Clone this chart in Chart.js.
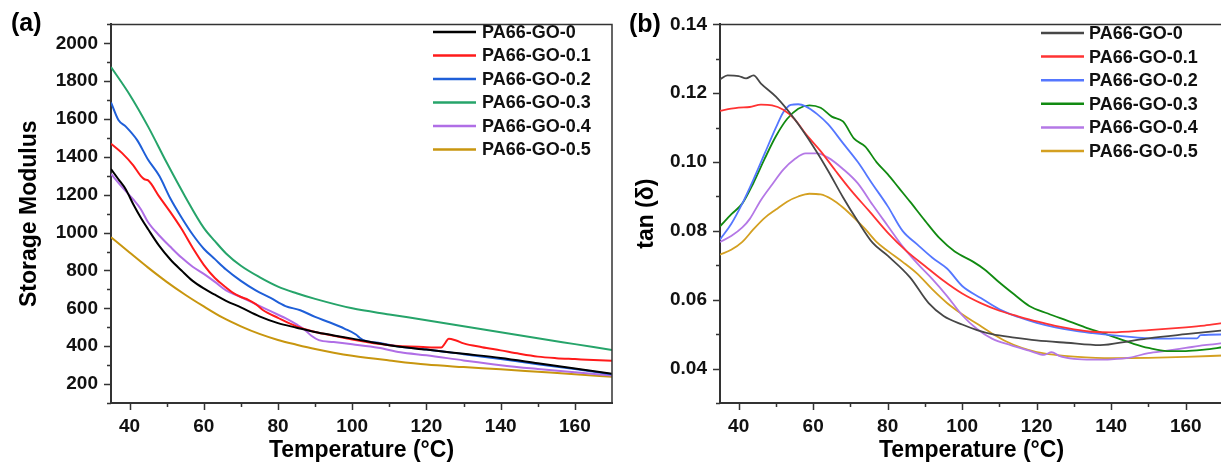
<!DOCTYPE html>
<html>
<head>
<meta charset="utf-8">
<script src="https://cdn.jsdelivr.net/npm/chart.js@4.4.1/dist/chart.umd.min.js"></script>
<style>
html,body{margin:0;padding:0;background:#fff;overflow:hidden;width:1221px;height:465px;position:relative;}
#wrapA{position:absolute;left:0;top:0;width:616px;height:465px;}
#wrapB{position:absolute;left:610px;top:0;width:616px;height:465px;}
canvas{display:block;}
</style>
</head>
<body>
<div id="wrapA"><canvas id="cA" width="616" height="465"></canvas></div>
<div id="wrapB"><canvas id="cB" width="616" height="465"></canvas></div>
<script>
// ---------- DATA ----------
const seriesNames = ['PA66-GO-0','PA66-GO-0.1','PA66-GO-0.2','PA66-GO-0.3','PA66-GO-0.4','PA66-GO-0.5'];

// (a) Storage modulus vs temperature
const aT0 = [35,37,39,41,43,45,48,51,54,57,60,63,66,70,75,80,85,90,95,100,110,120,130,140,150,160,170];
const aE0 = [1336,1282,1228,1150,1080,1018,930,858,800,745,705,672,640,605,558,522,498,475,457,440,405,382,360,338,310,282,255];
const aT1 = [35,38,41,43,44,45,48,51,54,57,60,63,66,68,70,72,74,76,80,85,90,95,100,110,120,124,125,126,128,130,135,140,145,150,155,160,165,170];
const aE1 = [1470,1420,1355,1300,1282,1276,1190,1108,1020,920,830,760,710,680,660,645,622,590,550,505,475,455,435,405,395,393,415,440,430,415,395,378,360,345,337,332,327,323];
const aT2 = [35,37,39,42,45,48,51,54,57,60,63,66,70,74,78,82,86,90,94,98,101,102,103,107,112,120,130,140,150,160,170];
const aE2 = [1688,1595,1560,1490,1385,1300,1180,1080,990,915,860,805,745,695,655,612,590,555,525,492,462,445,432,418,400,383,358,332,305,280,252];
const aT3 = [35,40,45,50,55,60,63,66,70,75,80,85,90,100,110,120,130,140,150,160,170];
const aE3 = [1875,1730,1560,1370,1190,1025,955,890,825,765,715,680,650,600,568,537,505,474,442,411,380];
const aT4 = [35,38,41,43,45,48,51,54,57,60,63,66,70,74,78,82,85,87,89,91,95,100,107,113,120,130,140,150,160,170];
const aE4 = [1310,1240,1175,1125,1055,985,925,868,820,782,740,695,660,622,585,548,515,490,455,432,422,410,392,368,352,325,300,280,262,245];
const aT5 = [35,40,45,50,55,60,65,70,75,80,85,90,95,100,110,120,130,140,150,160,170];
const aE5 = [976,895,815,740,672,610,552,505,465,433,408,385,366,350,325,303,290,278,265,252,238];

// (b) tan(delta) vs temperature
const bT0 = [35,37,40,42,44,46,50,55,60,64,68,72,76,80,86,91,95,100,104,108,114,120,128,137,145,150,160,170];
const bD0 = [0.1240,0.1252,0.1250,0.1243,0.1252,0.1228,0.1190,0.1125,0.1046,0.0975,0.0898,0.0828,0.0765,0.0728,0.0665,0.0590,0.0553,0.0528,0.0512,0.0500,0.0490,0.0482,0.0475,0.0468,0.0480,0.0488,0.0500,0.0511];
const bT1 = [35,38,40,43,46,49,52,55,58,62,66,70,75,80,85,90,95,100,105,110,115,120,125,130,135,140,150,160,165,170];
const bD1 = [0.1149,0.1155,0.1158,0.1160,0.1167,0.1165,0.1152,0.1125,0.1082,0.1032,0.0975,0.0920,0.0858,0.0795,0.0742,0.0698,0.0655,0.0618,0.0590,0.0568,0.0552,0.0537,0.0524,0.0514,0.0507,0.0505,0.0512,0.0520,0.0525,0.0532];
const bT2 = [35,38,41,44,47,50,52,54,56,58,61,64,68,72,76,80,84,88,92,96,100,105,110,115,120,125,130,135,140,145,150,155,160,163,164,170];
const bD2 = [0.0775,0.0820,0.0880,0.0950,0.1025,0.1100,0.1145,0.1166,0.1168,0.1162,0.1140,0.1110,0.1055,0.1000,0.0935,0.0872,0.0800,0.0760,0.0722,0.0690,0.0640,0.0605,0.0572,0.0550,0.0533,0.0520,0.0510,0.0503,0.0497,0.0492,0.0488,0.0487,0.0488,0.0488,0.0497,0.0499];
const bT3 = [35,38,41,44,47,50,53,56,59,62,65,68,71,74,77,80,83,86,90,94,98,103,106,110,114,118,123,128,133,138,142,146,150,155,160,165,170];
const bD3 = [0.0813,0.0848,0.0880,0.0940,0.1010,0.1075,0.1125,0.1155,0.1165,0.1158,0.1132,0.1118,0.1068,0.1045,0.1000,0.0965,0.0925,0.0885,0.0830,0.0778,0.0740,0.0710,0.0688,0.0650,0.0615,0.0582,0.0560,0.0540,0.0520,0.0502,0.0487,0.0472,0.0460,0.0451,0.0451,0.0455,0.0462];
const bT4 = [35,38,41,43,46,49,52,55,58,61,64,68,72,76,80,84,88,92,96,100,104,108,113,118,122,124,126,130,135,140,145,150,155,160,165,170];
const bD4 = [0.0768,0.0785,0.0810,0.0835,0.0890,0.0935,0.0978,0.1008,0.1025,0.1025,0.1013,0.0980,0.0938,0.0875,0.0815,0.0755,0.0705,0.0660,0.0610,0.0555,0.0515,0.0487,0.0468,0.0452,0.0440,0.0448,0.0437,0.0428,0.0426,0.0427,0.0432,0.0445,0.0452,0.0460,0.0468,0.0474];
const bT5 = [35,38,41,44,47,50,53,56,59,62,65,68,71,74,77,80,84,88,92,96,100,104,108,112,116,120,125,130,140,150,160,170];
const bD5 = [0.0731,0.0745,0.0768,0.0805,0.0838,0.0862,0.0885,0.0900,0.0908,0.0906,0.0892,0.0868,0.0838,0.0805,0.0768,0.0742,0.0710,0.0675,0.0630,0.0590,0.0558,0.0530,0.0502,0.0478,0.0460,0.0448,0.0440,0.0435,0.0430,0.0431,0.0434,0.0438];

// tick values
const xTickVals = [40,50,60,70,80,90,100,110,120,130,140,150,160];
const aYTickVals = [100,200,300,400,500,600,700,800,900,1000,1100,1200,1300,1400,1500,1600,1700,1800,1900,2000,2100];
const bYTickVals = [0.03,0.04,0.05,0.06,0.07,0.08,0.09,0.10,0.11,0.12,0.13,0.14];

const colorsA = ['#000000','#ff1a1a','#1f5fd8','#26a46a','#b06ee6','#c8960f'];
const colorsB = ['#474747','#ff3333','#5577ff','#118a11','#b478e6','#d4a021'];

// ---------- HELPERS ----------
const FONT = "'Liberation Sans', Arial, Helvetica, sans-serif";
Chart.defaults.font.family = FONT;
Chart.defaults.font.weight = 'bold';
Chart.defaults.color = '#111';

function pts(T, V){ return T.map((t,i)=>({x:t, y:V[i]})); }

function makeDatasets(Ts, Vs, colors, width){
  return Ts.map((T,i)=>({
    label: seriesNames[i],
    data: pts(T, Vs[i]),
    borderColor: colors[i],
    backgroundColor: colors[i],
    borderWidth: width,
    pointRadius: 0,
    fill: false,
    cubicInterpolationMode: 'monotone'
  }));
}

const deco = {
  id: 'deco',
  afterDraw(chart, args, o){
    const {ctx, chartArea:a, scales:{x, y}} = chart;
    ctx.save();
    // frame top & right
    ctx.strokeStyle = '#333';
    ctx.lineWidth = 1.5;
    ctx.beginPath();
    ctx.moveTo(a.left, a.top); ctx.lineTo(a.right, a.top); ctx.lineTo(a.right, a.bottom);
    ctx.stroke();
    // tick marks (major / minor), outward
    ctx.lineWidth = 1.5;
    ctx.beginPath();
    x.ticks.forEach(t=>{
      const p = Math.round(x.getPixelForValue(t.value)) + 0.5;
      const len = t.label !== '' ? 7 : 4;
      ctx.moveTo(p, a.bottom); ctx.lineTo(p, a.bottom + len);
    });
    y.ticks.forEach(t=>{
      const p = Math.round(y.getPixelForValue(t.value)) + 0.5;
      const len = t.label !== '' ? 7 : 4;
      ctx.moveTo(a.left, p); ctx.lineTo(a.left - len, p);
    });
    ctx.stroke();
    // legend
    ctx.font = "bold 18px " + FONT;
    ctx.textBaseline = 'middle';
    ctx.textAlign = 'left';
    chart.data.datasets.forEach((ds, i)=>{
      const yy = o.legY + i * o.legDy;
      ctx.strokeStyle = ds.borderColor;
      ctx.lineWidth = 2.5;
      ctx.beginPath();
      ctx.moveTo(o.legX0, yy); ctx.lineTo(o.legX1, yy);
      ctx.stroke();
      ctx.fillStyle = '#111';
      ctx.fillText(ds.label, o.legTx, yy + 1);
    });
    // panel label
    ctx.font = "bold 25px " + FONT;
    ctx.fillStyle = '#000';
    ctx.fillText(o.panel, o.panelX, o.panelY);
    ctx.restore();
  }
};

function makeChart(id, datasets, yMin, yMax, yVals, yCb, yTitle, yTitlePad, yWidth, padTop, padRight, deco_opts){
  return new Chart(document.getElementById(id), {
    type: 'line',
    data: { datasets },
    plugins: [deco],
    options: {
      responsive: false,
      animation: false,
      events: [],
      layout: { padding: { left: 0, top: padTop, right: padRight, bottom: 0 } },
      plugins: { legend: { display: false }, tooltip: { enabled: false }, deco: deco_opts },
      scales: {
        x: {
          type: 'linear', min: 35, max: 170,
          afterBuildTicks: s => { s.ticks = xTickVals.map(v => ({ value: v })); },
          afterFit: s => { s.height = 62; },
          ticks: { callback: v => (v % 20 === 0 ? String(v) : ''), autoSkip: false, maxRotation: 0,
                   padding: 12, color: '#111', font: { size: 19, weight: 'bold' } },
          grid: { display: false, drawTicks: false },
          border: { display: true, color: '#333', width: 2 },
          title: { display: true, text: 'Temperature (°C)', color: '#000',
                   font: { size: 23, weight: 'bold' }, padding: { top: 0, bottom: 1 } }
        },
        y: {
          type: 'linear', min: yMin, max: yMax,
          afterBuildTicks: s => { s.ticks = yVals.map(v => ({ value: v })); },
          afterFit: s => { s.width = yWidth; },
          ticks: { callback: yCb, autoSkip: false, padding: 13, color: '#111', font: { size: 19, weight: 'bold' } },
          grid: { display: false, drawTicks: false },
          border: { display: true, color: '#333', width: 2 },
          title: { display: true, text: yTitle, color: '#000',
                   font: { size: 23, weight: 'bold' }, padding: { top: yTitlePad, bottom: 0 } }
        }
      }
    }
  });
}

makeChart('cA',
  makeDatasets([aT0,aT1,aT2,aT3,aT4,aT5],[aE0,aE1,aE2,aE3,aE4,aE5], colorsA, 2),
  100, 2100, aYTickVals,
  v => (v >= 200 && v <= 2000 && v % 200 === 0 ? String(v) : ''),
  'Storage Modulus', 16, 111, 18, 4,
  { legX0: 433, legX1: 476, legTx: 482, legY: 32, legDy: 23.5, panel: '(a)', panelX: 11, panelY: 24 });

makeChart('cB',
  makeDatasets([bT0,bT1,bT2,bT3,bT4,bT5],[bD0,bD1,bD2,bD3,bD4,bD5], colorsB, 1.8),
  0.03, 0.14, bYTickVals,
  v => { const k = Math.round(v * 100); return (k >= 4 && k % 2 === 0) ? v.toFixed(2) : ''; },
  'tan (δ)', 23, 110, 19, 3,
  { legX0: 431, legX1: 474, legTx: 479, legY: 33, legDy: 23.6, panel: '(b)', panelX: 19, panelY: 25 });
</script>
</body>
</html>
